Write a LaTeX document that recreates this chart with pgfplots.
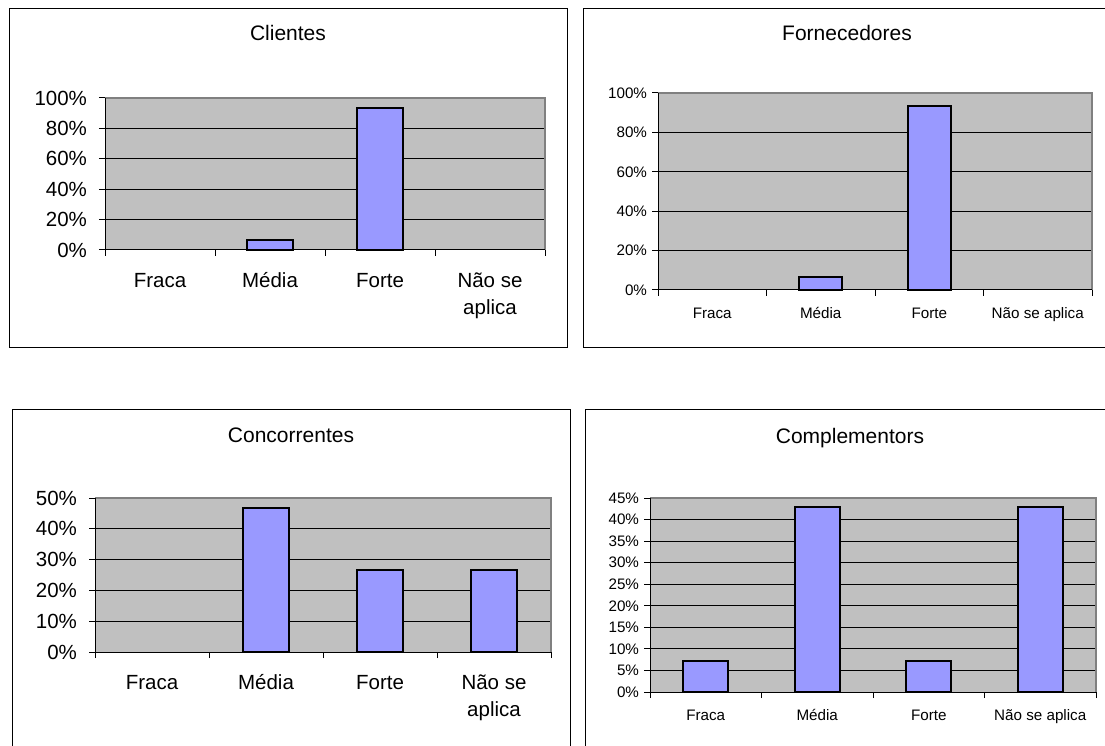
\documentclass[border=0pt]{standalone}
\usepackage{fontspec}
\setmainfont{Liberation Sans}
\usepackage{pgfplots}
\pgfplotsset{compat=1.18}

\definecolor{plotbg}{HTML}{C0C0C0}
\definecolor{barfill}{HTML}{9999FF}
\definecolor{framegray}{HTML}{808080}

\newcommand{\bigfont}{\fontsize{20.5}{27}\selectfont}
\newcommand{\smallfont}{\fontsize{15.2}{19}\selectfont}
\newcommand{\titlefont}{\fontsize{21}{25}\selectfont}

\pgfplotsset{
  panel/.style={
    scale only axis,
    xmin=0.5, xmax=4.5, ymin=0,
    axis background/.style={fill=plotbg},
    axis line style={draw=none},
    tick pos=left, tick align=outside,
    major tick length=6pt,
    tick style={black, line width=1pt},
    ymajorgrids, grid style={black, line width=1pt},
    xtick={0.5,1.5,2.5,3.5,4.5}, xticklabels={,,,,},
    extra x ticks={1,2,3,4},
    extra x tick style={grid=none, tick style={draw=none}},
    xticklabel style={align=center, anchor=north},
    clip=false,
  },
  bigpanel/.style={
    panel,
    tick label style={font=\bigfont},
    xticklabel style={yshift=-9pt},
    yticklabel style={xshift=-8.5pt},
    extra x tick labels={\strut Fraca,\strut Média,\strut Forte,\strut Não se\\aplica},
  },
  smallpanel/.style={
    panel,
    tick label style={font=\smallfont},
    xticklabel style={yshift=-5.5pt},
    yticklabel style={xshift=-1.5pt},
    extra x tick labels={\strut Fraca,\strut Média,\strut Forte,\strut Não se aplica},
  },
  bars/.style={ybar, fill=barfill, draw=black, line width=2pt},
}

\begin{document}
\begin{tikzpicture}[x=1pt, y=1pt]
\clip (0,0) rectangle (1105,745);
\path[use as bounding box] (0,0) rectangle (1105,745);

% Clientes
\begin{axis}[bigpanel, at={(105pt,495pt)}, anchor=south west,
  width=440pt, height=152pt, ymax=100,
  ytick={0,20,40,60,80,100},
  yticklabels={0\%,20\%,40\%,60\%,80\%,100\%},
  bar width=0.42]
  \addplot[bars] coordinates {(2,6.67) (3,93.33)};
  \draw[framegray, line width=2pt] (rel axis cs:0,1) -- (rel axis cs:1,1) -- (rel axis cs:1,0);
  \draw[black, line width=1pt] (rel axis cs:0,1) -- (rel axis cs:0,0) -- (rel axis cs:1,0);
\end{axis}

% Fornecedores
\begin{axis}[smallpanel, at={(658pt,455pt)}, anchor=south west,
  width=434pt, height=197pt, ymax=100,
  ytick={0,20,40,60,80,100},
  yticklabels={0\%,20\%,40\%,60\%,80\%,100\%},
  bar width=0.40]
  \addplot[bars] coordinates {(2,6.67) (3,93.33)};
  \draw[framegray, line width=2pt] (rel axis cs:0,1) -- (rel axis cs:1,1) -- (rel axis cs:1,0);
  \draw[black, line width=1pt] (rel axis cs:0,1) -- (rel axis cs:0,0) -- (rel axis cs:1,0);
\end{axis}

% Concorrentes
\begin{axis}[bigpanel, at={(95pt,93pt)}, anchor=south west,
  width=456pt, height=154pt, ymax=50,
  ytick={0,10,20,30,40,50},
  yticklabels={0\%,10\%,20\%,30\%,40\%,50\%},
  bar width=0.40]
  \addplot[bars] coordinates {(2,46.67) (3,26.67) (4,26.67)};
  \draw[framegray, line width=2pt] (rel axis cs:0,1) -- (rel axis cs:1,1) -- (rel axis cs:1,0);
  \draw[black, line width=1pt] (rel axis cs:0,1) -- (rel axis cs:0,0) -- (rel axis cs:1,0);
\end{axis}

% Complementors
\begin{axis}[smallpanel, at={(650pt,53pt)}, anchor=south west,
  width=446pt, height=194pt, ymax=45,
  ytick={0,5,10,15,20,25,30,35,40,45},
  yticklabels={0\%,5\%,10\%,15\%,20\%,25\%,30\%,35\%,40\%,45\%},
  bar width=0.40]
  \addplot[bars] coordinates {(1,7.14) (2,42.86) (3,7.14) (4,42.86)};
  \draw[framegray, line width=2pt] (rel axis cs:0,1) -- (rel axis cs:1,1) -- (rel axis cs:1,0);
  \draw[black, line width=1pt] (rel axis cs:0,1) -- (rel axis cs:0,0) -- (rel axis cs:1,0);
\end{axis}

% panel frames
\draw[black, line width=1pt] (9,736) rectangle (567,397);
\draw[black, line width=1pt] (583,736) rectangle (1130,397);
\draw[black, line width=1pt] (12,335) rectangle (570.5,-20);
\draw[black, line width=1pt] (585,335) rectangle (1130,-20);

% titles
\node[font=\titlefont] at (288,712) {Clientes};
\node[font=\titlefont] at (847,712) {Fornecedores};
\node[font=\titlefont] at (291,310) {Concorrentes};
\node[font=\titlefont] at (850,307) {Complementors};
\end{tikzpicture}
\end{document}
